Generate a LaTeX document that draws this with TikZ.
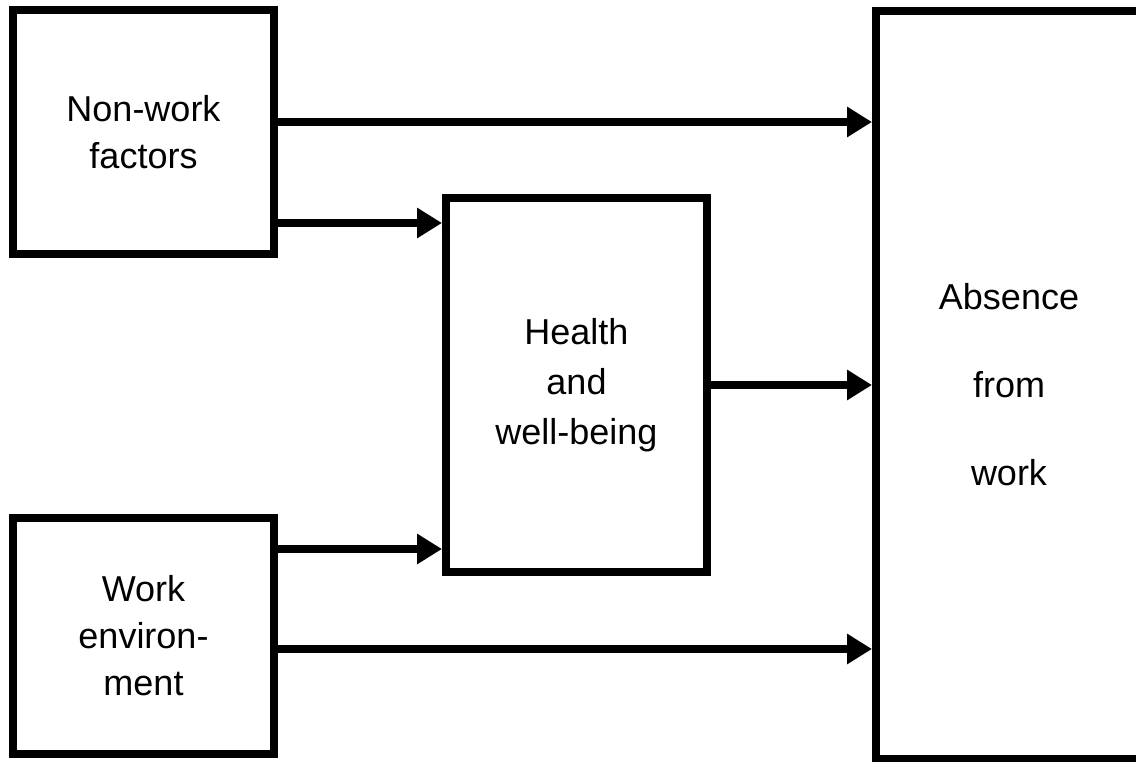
\documentclass[tikz,border=0pt]{standalone}
\usepackage{fontspec}
\setmainfont{Liberation Sans}
\usetikzlibrary{arrows.meta,positioning}

\begin{document}
\begin{tikzpicture}[x=1pt, y=-1pt,
        box/.style={draw, line width=8pt, align=center, font=\fontsize{36}{47}\selectfont},
        arr/.style={line width=8pt, -{Triangle[length=25pt, width=29pt]}}]
        \useasboundingbox (0, 0) rectangle (1136, 762);
        \clip (0, 0) rectangle (1136, 762);

        \node[box, minimum width=261pt, minimum height=244pt] (nonwork) at (143.5, 132) {Non-work\\factors};
        \node[box, minimum width=261pt, minimum height=374pt, font=\fontsize{36}{50}\selectfont] (health) at (576.5, 385) {Health\\and\\well-being};
        \node[box, minimum width=261pt, minimum height=236pt] (workenv) at (143.5, 636) {Work\\environ-\\ment};
        \node[box, minimum width=266pt, minimum height=748pt, font=\fontsize{36}{88}\selectfont] (absence) at (1009, 385) {Absence\\from\\work};

        \draw[arr] (nonwork.east |- 0, 122) -- (absence.west |- 0, 122);
        \draw[arr] (nonwork.east |- 0, 223) -- (health.west |- 0, 223);
        \draw[arr] (health.east |- 0, 385) -- (absence.west |- 0, 385);
        \draw[arr] (workenv.east |- 0, 549) -- (health.west |- 0, 549);
        \draw[arr] (workenv.east |- 0, 649) -- (absence.west |- 0, 649);
\end{tikzpicture}
\end{document}
